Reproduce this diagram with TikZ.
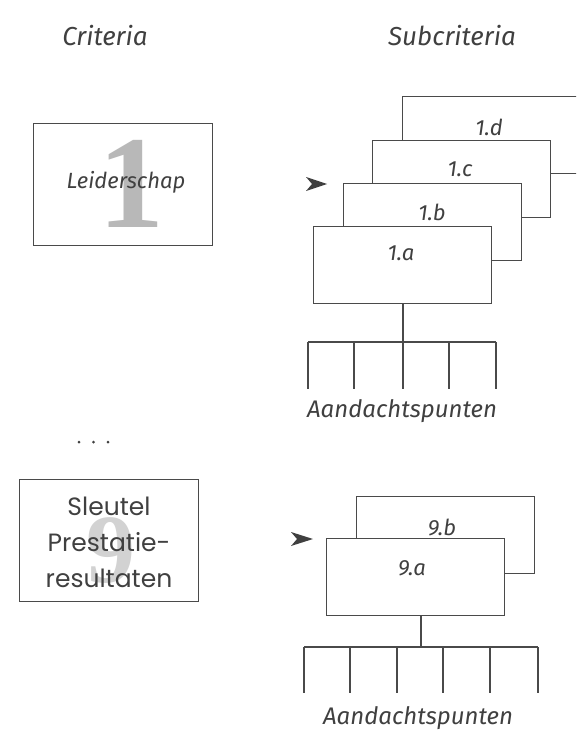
\documentclass[tikz,border=0pt]{standalone}
\usepackage{fontspec}
\newfontfamily\handfont{Fira Sans}
\newfontfamily\roundfont{Poppins}
\newfontfamily\digitfont{Liberation Serif}
\definecolor{ink}{HTML}{404040}
\definecolor{boxline}{HTML}{4A4A4A}
\definecolor{digitone}{HTML}{B8B8B8}
\definecolor{digitnine}{HTML}{D2D2D2}
\begin{document}
\begin{tikzpicture}[x=1pt,y=-1pt,
  hand/.style={font=\handfont\itshape\fontsize{#1}{#1}\selectfont, text=ink, inner sep=0},
  hand/.default=22,
  critbox/.style={draw=boxline, line width=1.1pt, minimum width=179pt, minimum height=122pt, anchor=north west, inner sep=0},
  subbox/.style={draw=boxline, line width=1.1pt, fill=white, minimum width=178pt, minimum height=77pt, anchor=north west, inner sep=0},
  bigdigit/.style={font=\digitfont\bfseries\fontsize{#1}{#1}\selectfont, inner sep=0},
  tree/.style={draw=boxline, line width=1.1pt},
  pointer/.style={fill=ink, draw=none},
  dot/.style={circle, fill=ink, inner sep=0, minimum size=3pt}
]
\useasboundingbox (0,0) rectangle (576,733);
\clip (0,0) rectangle (576,733);
\fill[white] (0,0) rectangle (576,733);

% headers
\node[hand=26] (hcrit) at (105,36) {Criteria};
\node[hand=26] (hsub) at (452,36) {Subcriteria};

% criterion 1
\node[bigdigit=132, text=digitone] (d1) at (131,184) {1};
\node[critbox] (c1) at (33,123) {};
\node[hand=22] (t1) at (126,182) {Leiderschap};

% subcriteria 1
\node[subbox, minimum width=200pt] (s1d) at (402,96) {};
\node[subbox] (s1c) at (372,140) {};
\node[subbox] (s1b) at (343,183) {};
\node[subbox] (s1a) at (313,226) {};
\node[hand=22] (l1d) at (489,127) {1.d};
\node[hand=22] (l1c) at (460,169) {1.c};
\node[hand=22] (l1b) at (432,212) {1.b};
\node[hand=22] (l1a) at (401,253) {1.a};

\fill[pointer] (306,177) -- (327,184) -- (306,191) -- (312,184) -- cycle;

% tree 1
\coordinate (j1) at (403,342);
\coordinate (j1l) at (308,342);
\coordinate (j1r) at (496,342);
\draw[tree] (s1a.south -| j1) -- (j1);
\draw[tree] (j1l) -- (j1r);
\foreach \x [count=\i] in {308,354,403,449,496} {
  \coordinate (p1\i) at (\x,389);
  \draw[tree] (\x,342) -- (p1\i);
}
\node[hand=24] (a1) at (402,411) {Aandachtspunten};

% dots
\node[dot] (dot1) at (79,442) {};
\node[dot] (dot2) at (93.5,442) {};
\node[dot] (dot3) at (108,442) {};

% criterion 9
\node[bigdigit=98, text=digitnine] (d9) at (111,551) {9};
\node[critbox] (c9) at (19,479) {};
\node[font=\roundfont\fontsize{25}{36}\selectfont, text=ink, align=center, inner sep=0] (t9) at (109,542)
  {Sleutel\\Prestatie-\\resultaten};

% subcriteria 9
\node[subbox] (s9b) at (356,496) {};
\node[subbox] (s9a) at (326,538) {};
\node[hand=22] (l9b) at (442,527) {9.b};
\node[hand=22] (l9a) at (412,568) {9.a};

\fill[pointer] (291,532) -- (313,539) -- (291,546) -- (297,539) -- cycle;

% tree 9
\coordinate (j9) at (421,647);
\coordinate (j9l) at (304,647);
\coordinate (j9r) at (538,647);
\draw[tree] (s9a.south -| j9) -- (j9);
\draw[tree] (j9l) -- (j9r);
\foreach \x [count=\i] in {304,350,397,443,490,538} {
  \coordinate (p9\i) at (\x,693);
  \draw[tree] (\x,647) -- (p9\i);
}
\node[hand=24] (a9) at (418,718) {Aandachtspunten};
\end{tikzpicture}
\end{document}
